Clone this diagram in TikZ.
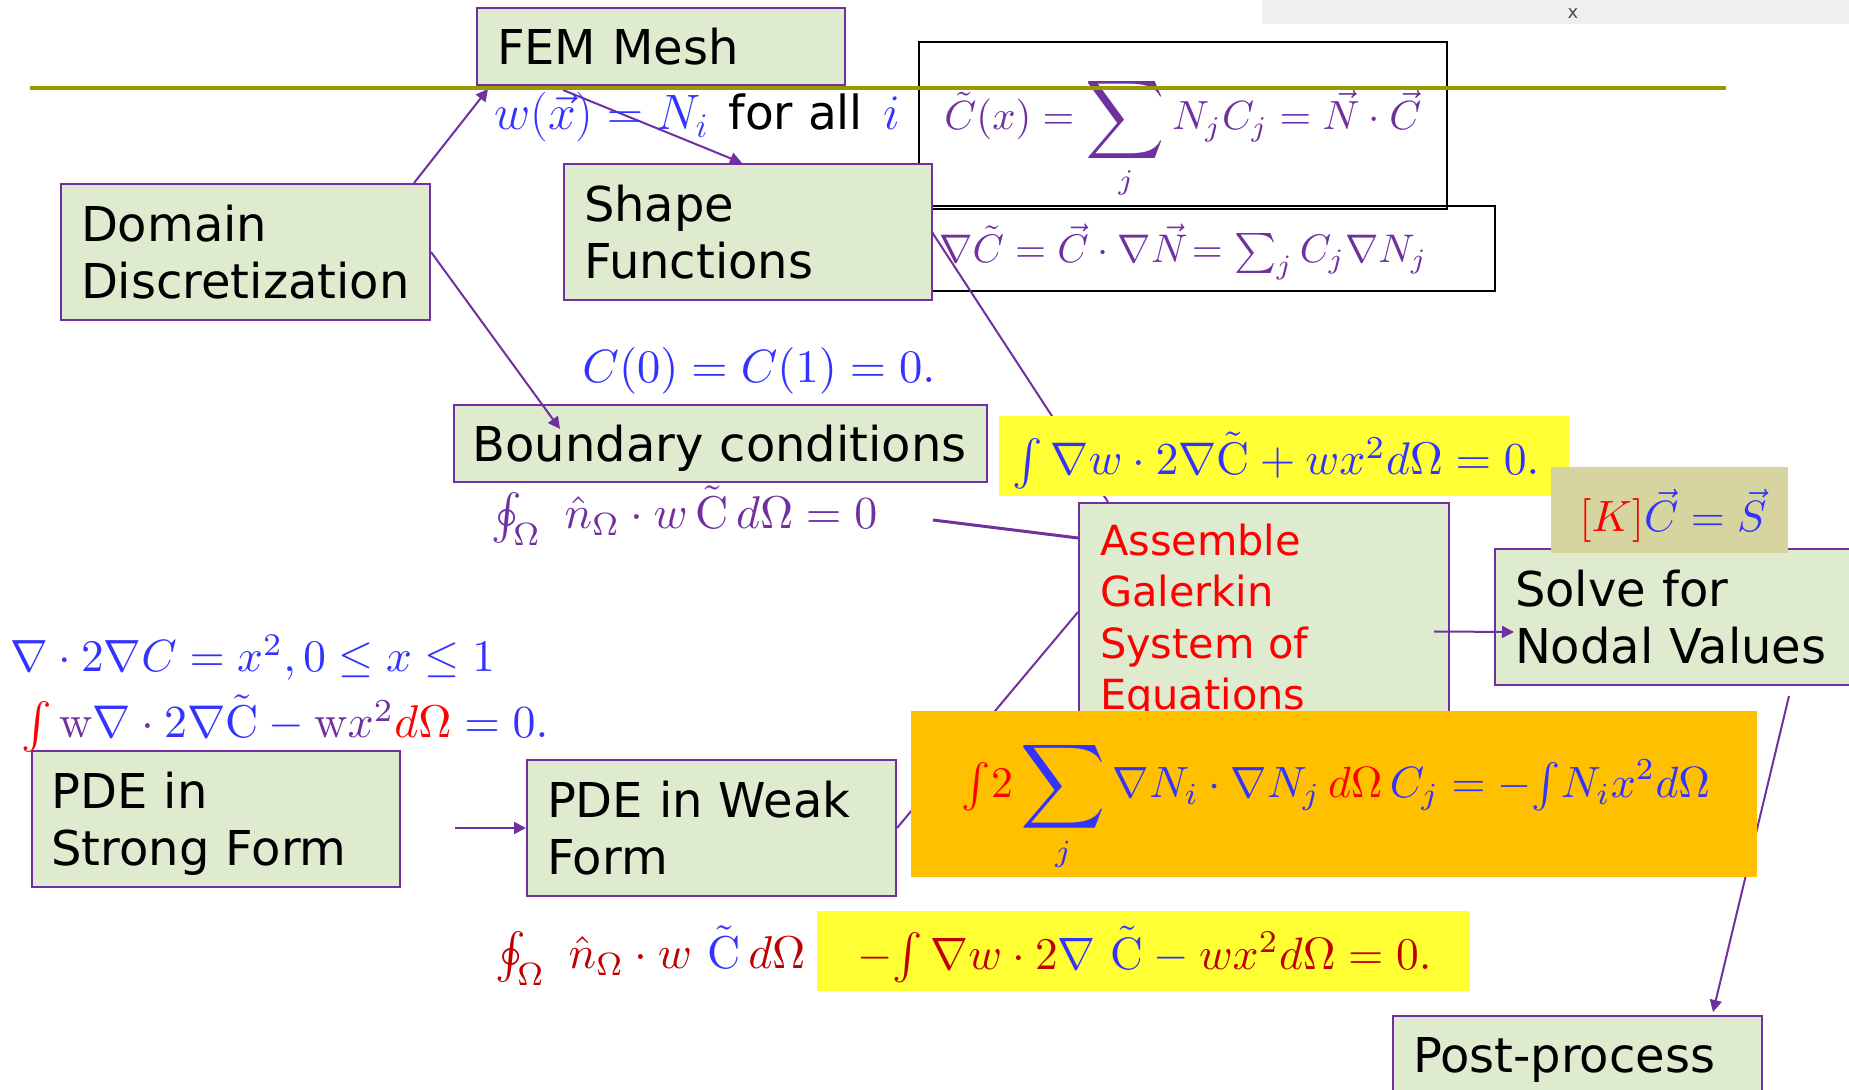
\documentclass[tikz,border=0pt]{standalone}
\usepackage{fontspec}
\setsansfont{DejaVu Sans}
\usepackage{graphicx}
\usetikzlibrary{arrows.meta,calc}
\definecolor{boxgreen}{HTML}{DFEBCF}
\definecolor{boxpurple}{HTML}{7030A0}
\definecolor{eqpurple}{HTML}{7030A0}
\definecolor{eqblue}{HTML}{3333FF}
\definecolor{eqdarkred}{HTML}{C00000}
\definecolor{hlyellow}{HTML}{FFFF33}
\definecolor{hlorange}{HTML}{FFC000}
\definecolor{hlkhaki}{HTML}{D7D59F}
\definecolor{olivebar}{HTML}{999900}
\definecolor{topgray}{HTML}{EFEFEF}
\newcommand{\eqw}[2]{\resizebox{#1}{!}{#2}}
\newcommand{\nodesc}[1]{\raisebox{0pt}[\height][0pt]{#1}}
\newcommand{\bigsum}{\mathop{\vcenter{\hbox{\scalebox{1.35}{$\displaystyle\sum$}}}}\limits}
\begin{document}
\begin{tikzpicture}[x=0.5pt,y=-0.5pt,
  box/.style={draw=boxpurple, line width=1pt, fill=boxgreen, align=left, inner ysep=0pt, inner xsep=10pt, font=\sffamily\fontsize{24}{28.5}\selectfont},
  eqbox/.style={draw=black, line width=1.2pt, inner sep=0pt},
  hl/.style={inner sep=0pt, draw=none},
  eq/.style={inner sep=0pt, anchor=base west},
  conn/.style={draw=boxpurple, line width=1pt},
  arr/.style={conn, -{Triangle[length=6pt,width=6pt]}}
]
\useasboundingbox (0,0) rectangle (1849,1090);
\fill[white] (0,0) rectangle (1849,1090);
% top gray bar
\fill[topgray] (1262,0) rectangle (1849,24);
\node[font=\sffamily\fontsize{9}{10}\selectfont, text=black!70, inner sep=0pt] (xmark) at (1573,14) {x};

% black equation boxes
\node[eqbox, minimum width=264pt, minimum height=83.5pt] (sumbox) at (1183,125.5) {};
\node[eqbox, minimum width=288pt, minimum height=42.5pt] (gradbox) at (1207,248.5) {};

% green boxes
\node[box, minimum width=184pt, minimum height=38.5pt, text width=164pt] (fem) at (661,46.5) {FEM Mesh};
\node[box, minimum width=184.5pt, minimum height=68pt, text width=164.5pt] (dom) at (245.5,252) {Domain\\\mbox{Discretization}};
\node[box, minimum width=184pt, minimum height=68pt, text width=164pt] (shape) at (748,232) {Shape\\Functions};
\node[box, minimum width=266.5pt, minimum height=38.5pt, text width=248pt, inner xsep=9.25pt] (bc) at (720.5,443.5) {\nodesc{Boundary conditions}};
\node[box, minimum width=185pt, minimum height=113.5pt, text width=164pt, inner xsep=10.5pt, text=red, font=\sffamily\fontsize{20.75}{25.75}\selectfont] (assemble) at (1264,616.5) {Assemble\\Galerkin\\System of\\\nodesc{Equations}};
\node[box, minimum width=182.5pt, minimum height=68pt, text width=162.5pt] (solve) at (1677.5,617) {Solve for\\Nodal Values};
\node[box, minimum width=184.25pt, minimum height=68pt, text width=164.25pt] (strong) at (215.75,819) {PDE in\\\nodesc{Strong Form}};
\node[box, minimum width=184.5pt, minimum height=68pt, text width=164.5pt] (weak) at (711.5,828) {PDE in Weak\\Form};
\node[box, minimum width=184.5pt, minimum height=39pt, text width=164.5pt] (post) at (1577.5,1055) {\nodesc{Post-process}};

% connectors
\draw[arr] ($(dom.north east)+(-17,0)$) -- ($(fem.south west)+(12,3)$);
\draw[arr] ($(fem.south west)+(87,4)$) -- ($(shape.north)+(-6,0)$);
\draw[arr] (dom.east) -- ($(bc.north west)+(107,25)$);
\draw[conn] ($(gradbox.north west)+(14,27)$) -- ($(assemble.north west)+(30,0)$);
\coordinate (fluxend) at (933,520);
\draw[conn, line width=1.5pt] (fluxend) -- ($(assemble.north west)+(0,36)$);
\draw[conn] (weak.east) -- ($(assemble.north west)+(0,110)$);
\draw[arr] ($(assemble.east)+(-16,15)$) -- ($(solve.west)+(20,15)$);
\draw[arr] ($(solve.south)+(111.5,10)$) -- ($(post.north)+(135.5,-3)$);
\draw[arr] ($(strong.east)+(54,9)$) -- (weak.west);

% highlighted equation boxes
\node[hl, fill=hlyellow, minimum width=285pt, minimum height=40pt] (ybox1) at (1284,456) {};
\node[hl, fill=hlkhaki, minimum width=118.5pt, minimum height=43pt] (kbox) at (1669.5,510) {};
\node[hl, fill=hlorange, minimum width=423pt, minimum height=83pt] (obox) at (1334,794) {};
\node[hl, fill=hlyellow, minimum width=326.5pt, minimum height=40pt] (ybox2) at (1143.5,951) {};

% equations
\node[eq, font=\fontsize{24}{28}\selectfont] (eqA) at (494,130) {\color{eqblue}$w(\vec{x}) = N_i$\hspace{10pt}{\sffamily\fontsize{23.5}{28}\selectfont\color{black}for all}\hspace{10pt}$i$};
\node[eq] (eqB) at (944,130) {\eqw{238.5pt}{\color{eqpurple}$\displaystyle \tilde{C}(x) = \bigsum_j N_j C_j = \vec{N}\cdot\vec{C}$}};
\node[eq] (eqC) at (939,263) {\eqw{244pt}{\color{eqpurple}$\nabla\tilde{C} = \vec{C}\cdot\nabla\vec{N}\!= \textstyle\sum_j C_j\nabla N_j$}};
\node[eq] (eqD) at (582,383) {\eqw{176.5pt}{\color{eqblue}$C(0) = C(1) = 0.$}};
\node[eq] (eqE) at (1012,475) {\eqw{263.5pt}{\color{eqblue}$\int \nabla w\cdot 2\nabla\tilde{\mathrm{C}} + w x^2 d\Omega = 0.$}};
\node[eq] (eqF) at (491,529) {\eqw{193pt}{\color{eqpurple}$\oint_\Omega\ \hat{n}_\Omega\cdot w\,\tilde{\mathrm{C}}\,d\Omega = 0$}};
\node[eq] (eqG) at (1579,532) {\eqw{93.5pt}{$\color{red}[K]\color{eqblue}\vec{C} = \vec{S}$}};
\node[eq] (eqH) at (10.5,672) {\eqw{242pt}{\color{eqblue}$\nabla\cdot 2\nabla C = x^2, 0 \leq x \leq 1$}};
\node[eq] (eqI) at (21,738) {\eqw{263.5pt}{$\color{red}\int \color{eqpurple}\mathrm{w}\color{eqblue}\nabla \color{eqpurple}\cdot \color{eqblue}2\nabla\tilde{\mathrm{C}} - \color{eqpurple}\mathrm{w}x^2 \color{red}d\Omega \color{eqblue}= 0.$}};
\node[eq] (eqJ) at (961.5,798) {\eqw{374pt}{$\displaystyle\color{red}{\textstyle\int} 2 \color{eqblue}\bigsum_j \nabla N_i\cdot\nabla N_j \color{red}\,d\Omega\, \color{eqblue}C_j = -{\textstyle\int} N_i x^2 d\Omega$}};
\node[eq] (eqK) at (495,969) {\eqw{155pt}{$\color{eqdarkred}\oint_\Omega\ \hat{n}_\Omega\cdot w\ \color{eqblue}\tilde{\mathrm{C}}\,\color{eqdarkred}d\Omega$}};
\node[eq] (eqL) at (857,969) {\eqw{287pt}{$\color{eqdarkred}-\!\int \nabla w\cdot 2\color{eqblue}\nabla\ \tilde{\mathrm{C}} - \color{eqdarkred}w x^2 d\Omega = 0.$}};

% olive rule
\draw[olivebar, line width=2.25pt] (30,88) -- (1726,88);
\end{tikzpicture}
\end{document}
